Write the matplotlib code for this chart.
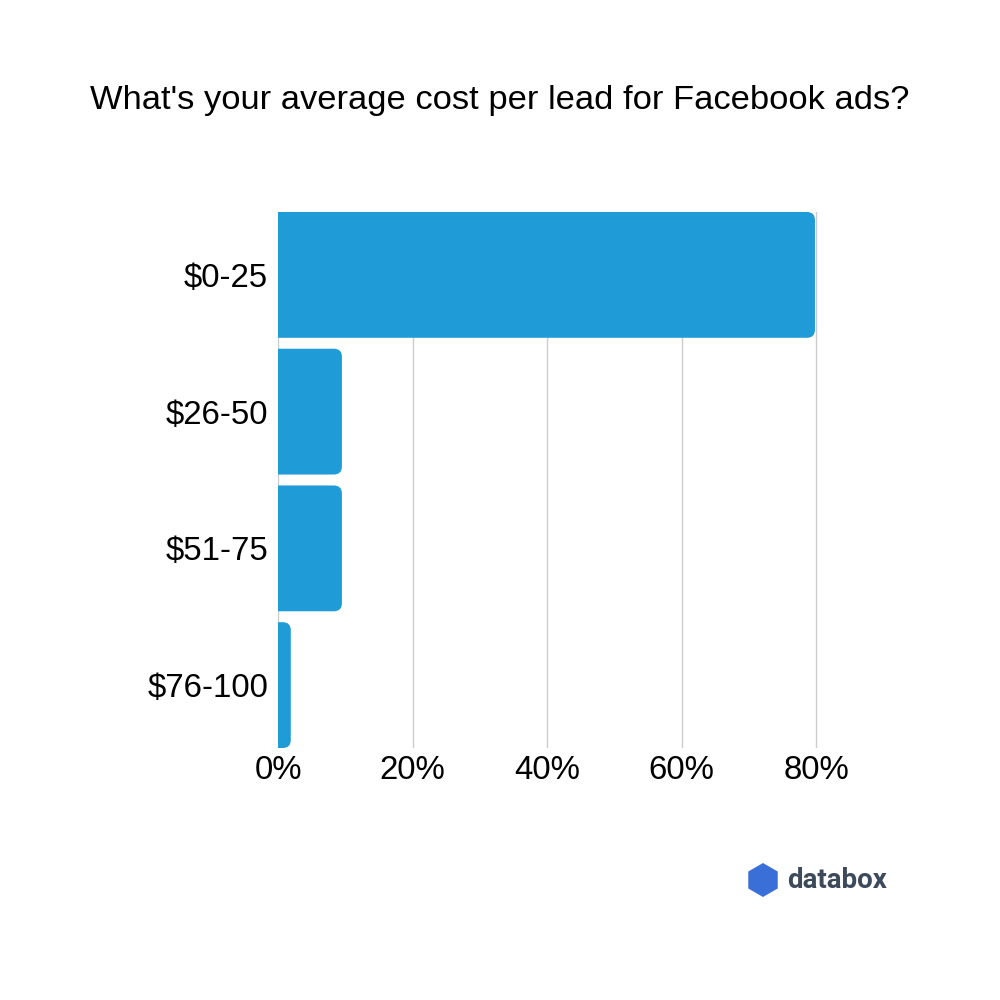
import matplotlib.pyplot as plt
from matplotlib.patches import FancyBboxPatch, RegularPolygon

categories = ['$0-25', '$26-50', '$51-75', '$76-100']
values = [79.8, 9.5, 9.5, 1.9]
ticks = [0, 20, 40, 60, 80]
tick_labels = ['0%', '20%', '40%', '60%', '80%']

blue = '#1f9bd7'
plt.rcParams['font.family'] = ['Liberation Sans', 'DejaVu Sans']

fig = plt.figure(figsize=(10, 10), dpi=100)
ax = fig.add_axes([0.278, 0.252, 0.540, 0.536])
xmax = 80.25
ax.set_xlim(0, xmax)
h = 0.92
ax.set_ylim(len(categories) - 1 + h / 2, -h / 2)

# rounded bars, started left of zero so the left edge gets clipped square
aspect = ((len(categories) - 1 + h) / 536) / (xmax / 540)
for i, v in enumerate(values):
    p = FancyBboxPatch((-3, i - h / 2), v + 3, h,
                       boxstyle='round,pad=0,rounding_size=1.2',
                       mutation_aspect=aspect, fc=blue, ec='none', zorder=3)
    ax.add_patch(p)

ax.set_yticks(range(len(categories)))
ax.set_yticklabels(categories, fontsize=23.8)
ax.set_xticks(ticks)
ax.set_xticklabels(tick_labels, fontsize=23.8)
ax.tick_params(length=0, pad=7)
ax.tick_params(axis='x', pad=5)
for s in ax.spines.values():
    s.set_visible(False)
ax.grid(axis='x', color='#cccccc', lw=1, zorder=0)

fig.text(0.5, 0.9, "What's your average cost per lead for Facebook ads?",
         ha='center', va='center', fontsize=24.8)

# databox logo
fig.patches.append(RegularPolygon((0.763, 0.12), 6, radius=0.017,
                                  transform=fig.transFigure, fc='#3a6fd8', ec='none'))
fig.text(0.787, 0.12, 'databox', fontsize=20, fontweight='bold', color='#3d4a5c',
         ha='left', va='center', family=['Roboto', 'DejaVu Sans'])

fig.savefig('out.png')
